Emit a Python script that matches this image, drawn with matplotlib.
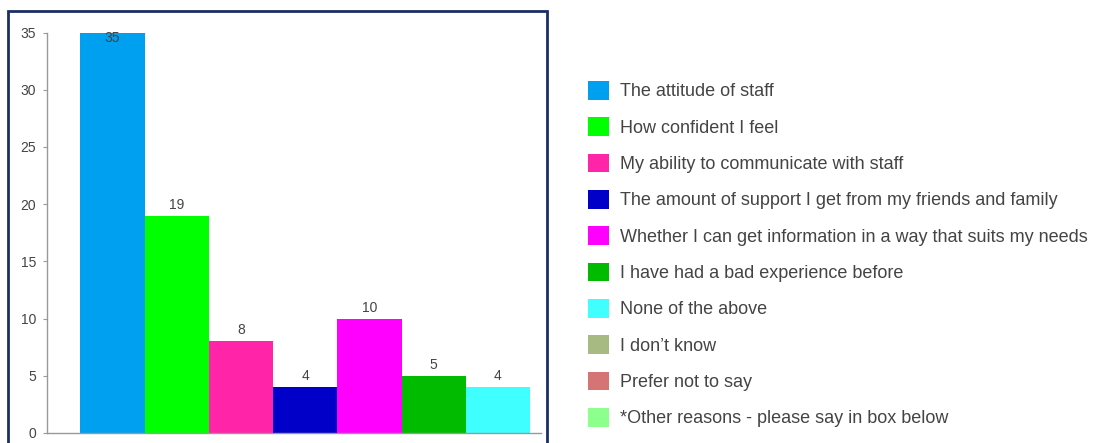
import matplotlib
matplotlib.use("Agg")
import matplotlib.pyplot as plt
from matplotlib.patches import Rectangle, Patch

plt.rcParams["font.family"] = ["Liberation Sans", "DejaVu Sans"]

categories = [
    "The attitude of staff",
    "How confident I feel",
    "My ability to communicate with staff",
    "The amount of support I get from my friends and family",
    "Whether I can get information in a way that suits my needs",
    "I have had a bad experience before",
    "None of the above",
    "I don\u2019t know",
    "Prefer not to say",
    "*Other reasons - please say in box below",
]
values = [35, 19, 8, 4, 10, 5, 4, 0, 0, 0]
colors = ["#00a0f0", "#00ff00", "#ff24a8", "#0000c8", "#ff00ff", "#00bb00",
          "#40ffff", "#a6ba82", "#d47474", "#8cff8c"]
yticks = [0, 5, 10, 15, 20, 25, 30, 35]

W, H = 1093, 443
fig = plt.figure(figsize=(W / 100, H / 100), dpi=100)
fig.patch.set_facecolor("white")

# outer frame
frame = Rectangle((8 / W, -0.05), (547 - 8) / W, 1 - 11 / H + 0.05,
                  transform=fig.transFigure, fill=False,
                  edgecolor="#1b2f66", linewidth=2, zorder=0)
fig.patches.append(frame)

ax = fig.add_axes([47 / W, 1 - 433 / H, (541 - 47) / W, (433 - 32.5) / H])
shown = [(i, v) for i, v in enumerate(values) if v > 0]
xs = [i for i, _ in shown]
vs = [v for _, v in shown]
ax.bar(xs, vs, width=1.0, color=[colors[i] for i in xs], linewidth=0, zorder=2)
ax.set_xlim(-1.02, 6.67)
ax.set_ylim(0, 35)
for x, v in zip(xs, vs):
    y = min(v + 0.35, 35 - 1.05)
    ax.text(x, y, str(v), ha="center", va="bottom", fontsize=10,
            color="#444444", zorder=3)

ax.set_yticks(yticks)
ax.set_yticklabels([str(t) for t in yticks], fontsize=10, color="#444444")
ax.set_xticks([])
ax.tick_params(axis="y", length=3, color="#999999", pad=5)
for s in ["top", "right"]:
    ax.spines[s].set_visible(False)
for s in ["left", "bottom"]:
    ax.spines[s].set_color("#999999")
    ax.spines[s].set_linewidth(1)
ax.patch.set_alpha(0)

handles = [Patch(facecolor=c, edgecolor="none") for c in colors]
leg = fig.legend(handles, categories, loc="upper left",
                 bbox_to_anchor=(588 / W, 1 - 81 / H), frameon=False,
                 fontsize=13, handlelength=1.16, handleheight=1.22,
                 handletextpad=0.6, labelspacing=0.935, borderaxespad=0,
                 borderpad=0)
for t in leg.get_texts():
    t.set_color("#444444")

fig.savefig("out.png", dpi=100)
